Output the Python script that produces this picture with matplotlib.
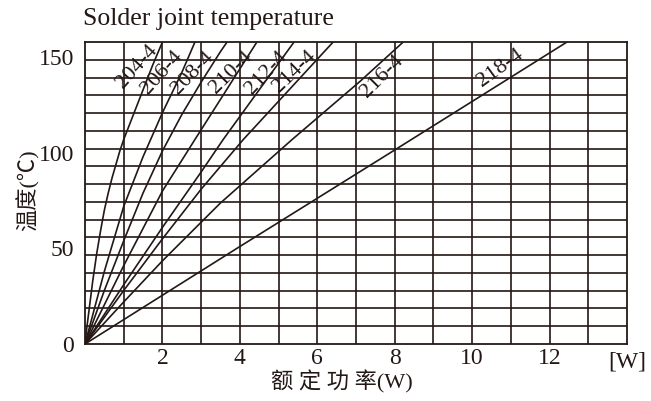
import matplotlib
matplotlib.use("Agg")
import matplotlib.pyplot as plt
import numpy as np

# Temperature rise curves: (rated power W, temperature °C) per resistor type
curve_names = ["204-4", "206-4", "208-4", "210-4", "212-4", "214-4", "216-4", "218-4"]

p_204 = [0, 0.05, 0.1, 0.2, 0.3, 0.4, 0.5, 0.6, 0.7, 0.8, 0.9, 1.0, 1.25, 1.5, 1.75, 2.0]
t_204 = [0, 9, 17, 33, 47, 59, 70, 79, 87, 94, 101, 107, 120, 133, 146, 158]

p_206 = [0, 0.5, 1.0, 1.5, 2.0, 2.5, 2.84]
t_206 = [0, 38, 72, 98, 121, 142, 158]

p_208 = [0, 0.5, 1.0, 1.5, 2.0, 2.5, 3.0, 3.5, 3.67]
t_208 = [0, 28, 54, 79, 101, 120, 137, 153, 158]

p_210 = [0, 1.0, 2.0, 2.84, 3.5, 4.44]
t_210 = [0, 41, 80, 107, 128, 158]

p_212 = [0, 1.0, 2.0, 3.0, 3.57, 4.5, 5.4]
t_212 = [0, 31, 61, 90, 107, 133, 158]

p_214 = [0, 1.0, 2.0, 3.0, 4.09, 5.0, 6.41]
t_214 = [0, 28, 55, 81, 107, 127, 158]

p_216 = [0, 1.0, 2.0, 3.49, 5.34, 7.11, 8.22]
t_216 = [0, 22, 43.5, 73.6, 106.8, 137.5, 158]

p_218 = [0, 4.0, 8.0, 12.45]
t_218 = [0, 51, 101.5, 158]

powers = [p_204, p_206, p_208, p_210, p_212, p_214, p_216, p_218]
temps = [t_204, t_206, t_208, t_210, t_212, t_214, t_216, t_218]

# Where each curve name sits (W, °C) and its slant
label_pos = [(1.34, 145), (1.98, 142), (2.78, 141.7), (3.77, 142),
             (4.68, 142), (5.40, 142.5), (7.67, 139.9), (10.72, 144.3)]
label_rot = [48, 48, 46, 45, 47, 44, 45, 36]

x_ticks = [2, 4, 6, 8, 10, 12]
y_ticks = [0, 50, 100, 150]

ink = "#231815"
serif = ["Liberation Serif", "DejaVu Serif"]
mixed = ["Liberation Serif", "Noto Sans CJK SC"]

fig = plt.figure(figsize=(6.51, 4.01), dpi=100)
ax = fig.add_axes([85 / 651, 1 - 344 / 401, (627 - 85) / 651, (344 - 42) / 401])

x_max, y_max = 14, 158
ax.set_xlim(0, x_max)
ax.set_ylim(0, y_max)

# chart-paper grid: 1 W columns, 17 rows
for gx in range(1, x_max):
    ax.axvline(gx, color=ink, lw=1.2, zorder=1)
for gy in np.linspace(0, y_max, 18)[1:-1]:
    ax.axhline(gy, color=ink, lw=1.2, zorder=1)

for p, t in zip(powers, temps):
    ax.plot(p, t, color=ink, lw=1.2, zorder=2, solid_capstyle="butt")

for name, (lx, ly), rot in zip(curve_names, label_pos, label_rot):
    ax.text(lx, ly, name, rotation=rot, rotation_mode="anchor",
            ha="center", va="center", fontsize=16, family=serif, color=ink,
            zorder=3)

for s in ax.spines.values():
    s.set_color(ink)
    s.set_linewidth(1.3)

ax.set_xticks(x_ticks)
ax.set_xticklabels([str(v) for v in x_ticks], family=serif, fontsize=17, color=ink)
ax.set_yticks(y_ticks)
ax.set_yticklabels([str(v) for v in y_ticks], family=serif, fontsize=17, color=ink)
ax.tick_params(axis="x", length=0, pad=3)
ax.tick_params(axis="y", length=0, pad=8)

ax.text(x_max, -0.025, "[W]", transform=ax.get_xaxis_transform(), ha="center",
        va="top", fontsize=17, family=serif, color=ink)

fig.text(342 / 651, 1 - 382 / 401, "额 定 功 率(W)", ha="center", va="center",
         fontsize=16, family=mixed, color=ink)
fig.text(28 / 651, 1 - 190 / 401, "温度(℃)", rotation=90, ha="center", va="center",
         fontsize=16, family=mixed, color=ink)
fig.text(83 / 651, 1 - 19 / 401, "Solder joint temperature", ha="left", va="center",
         fontsize=18.5, family=serif, color=ink)

fig.savefig("out.png", dpi=100)
